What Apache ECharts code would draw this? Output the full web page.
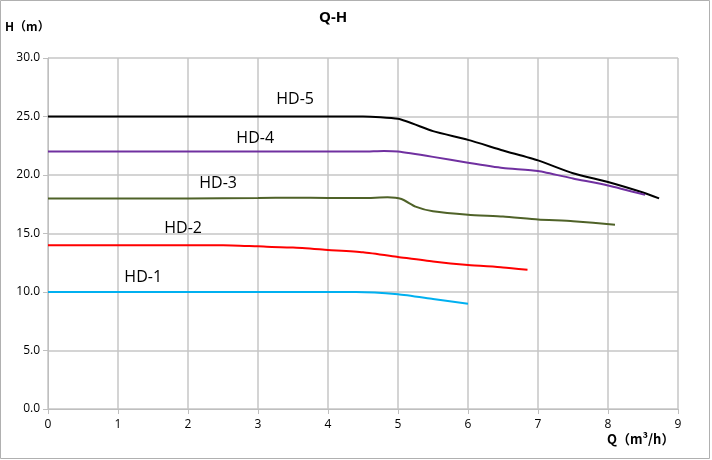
<!DOCTYPE html>
<html>
<head>
<meta charset="utf-8">
<script src="https://cdn.jsdelivr.net/npm/echarts@6/dist/echarts.min.js"></script>
<style>
html,body{margin:0;padding:0;background:#fff;}
#c{width:712px;height:460px;}
</style>
</head>
<body>
<div id="c"></div>
<script>
// Data
var seriesNames = ['HD-5','HD-4','HD-3','HD-2','HD-1'];
var hd5Q = [0,1,2,3,4,4.5,5,5.5,6,6.5,7,7.5,8,8.5,8.73];
var hd5H = [25,25,25,25,25,25,24.8,23.75,23.0,22.1,21.25,20.15,19.4,18.5,18.0];
var hd4Q = [0,1,2,3,4,4.5,4.8,5,5.5,6,6.5,7,7.5,8,8.53];
var hd4H = [22,22,22,22,22,22,22.05,22.0,21.55,21.05,20.6,20.35,19.7,19.1,18.3];
var hd3Q = [0,1,2,3,3.5,4,4.5,4.85,5.05,5.25,5.5,6,6.5,7,7.5,8.1];
var hd3H = [18,18,18,18.03,18.06,18.03,18.03,18.1,17.95,17.3,16.9,16.6,16.45,16.2,16.05,15.75];
var hd2Q = [0,1,2,2.5,3,3.5,4,4.5,5,5.5,6,6.5,6.85];
var hd2H = [14,14,14,14,13.9,13.8,13.6,13.4,13.0,12.6,12.3,12.1,11.9];
var hd1Q = [0,1,2,3,4,4.4,5,5.5,6];
var hd1H = [10,10,10,10,10,10,9.8,9.4,9.0];
var labelQ = [3.53,2.96,2.43,1.93,1.36];
var labelH = [26.5,23.15,19.25,15.45,11.25];
var xTicks = [0,1,2,3,4,5,6,7,8,9];
var yTicks = [0,5,10,15,20,25,30];

var colors = ['#000000','#7030a0','#4f6228','#ff0000','#00b0f0'];
var Qs = [hd5Q,hd4Q,hd3Q,hd2Q,hd1Q];
var Hs = [hd5H,hd4H,hd3H,hd2H,hd1H];

function pairs(q,h){var r=[];for(var i=0;i<q.length;i++)r.push([q[i],h[i]]);return r;}

var series = seriesNames.map(function(n,i){
  return {
    name:n, type:'line', data:pairs(Qs[i],Hs[i]),
    smooth:0.2, showSymbol:false, symbol:'none',
    lineStyle:{color:colors[i],width:2}, itemStyle:{color:colors[i]},
    markPoint:{
      symbol:'circle', symbolSize:0, silent:true,
      label:{show:true, position:'inside', formatter:n, color:'#000', fontSize:16, fontFamily:'Open Sans'},
      data:[{coord:[labelQ[i],labelH[i]]}]
    }
  };
});

var chart = echarts.init(document.getElementById('c'));
chart.setOption({
  animation:false,
  backgroundColor:'#fff',
  textStyle:{fontFamily:'Open Sans'},
  grid:{left:48,right:34,top:58,bottom:51,containLabel:false},
  xAxis:{
    type:'value', min:0, max:9, interval:1,
    axisLine:{show:true,lineStyle:{color:'#bfbfbf',width:1}},
    axisTick:{show:true,length:5,lineStyle:{color:'#bfbfbf'}},
    axisLabel:{color:'#000',fontSize:12,margin:10,fontFamily:'Open Sans'},
    splitLine:{show:true,lineStyle:{color:'#c6c6c6',width:1.5}}
  },
  yAxis:{
    type:'value', min:0, max:30, interval:5,
    axisLine:{show:true,lineStyle:{color:'#bfbfbf',width:1}},
    axisTick:{show:true,length:5,lineStyle:{color:'#bfbfbf'}},
    axisLabel:{color:'#000',fontSize:12,margin:8,fontFamily:'Open Sans',formatter:function(v){return v.toFixed(1);}},
    splitLine:{show:true,lineStyle:{color:'#c6c6c6',width:1.5}}
  },
  series:series,
  graphic:[
    {type:'rect',shape:{x:0.5,y:0.5,width:709,height:458},style:{fill:'none',stroke:'#b0b0b0',lineWidth:1},silent:true,z:-1},
    {type:'text',left:319,top:10,style:{text:'Q-H',font:'bold 15px "Open Sans"',fill:'#000'}},
    {type:'text',left:5,top:20,style:{text:'H（m）',font:'bold 12px "Noto Sans CJK SC"',fill:'#000'}},
    {type:'text',left:607,top:433,style:{text:'Q（m³/h）',font:'bold 13px "Noto Sans CJK SC"',fill:'#000'}}
  ]
});
</script>
</body>
</html>
